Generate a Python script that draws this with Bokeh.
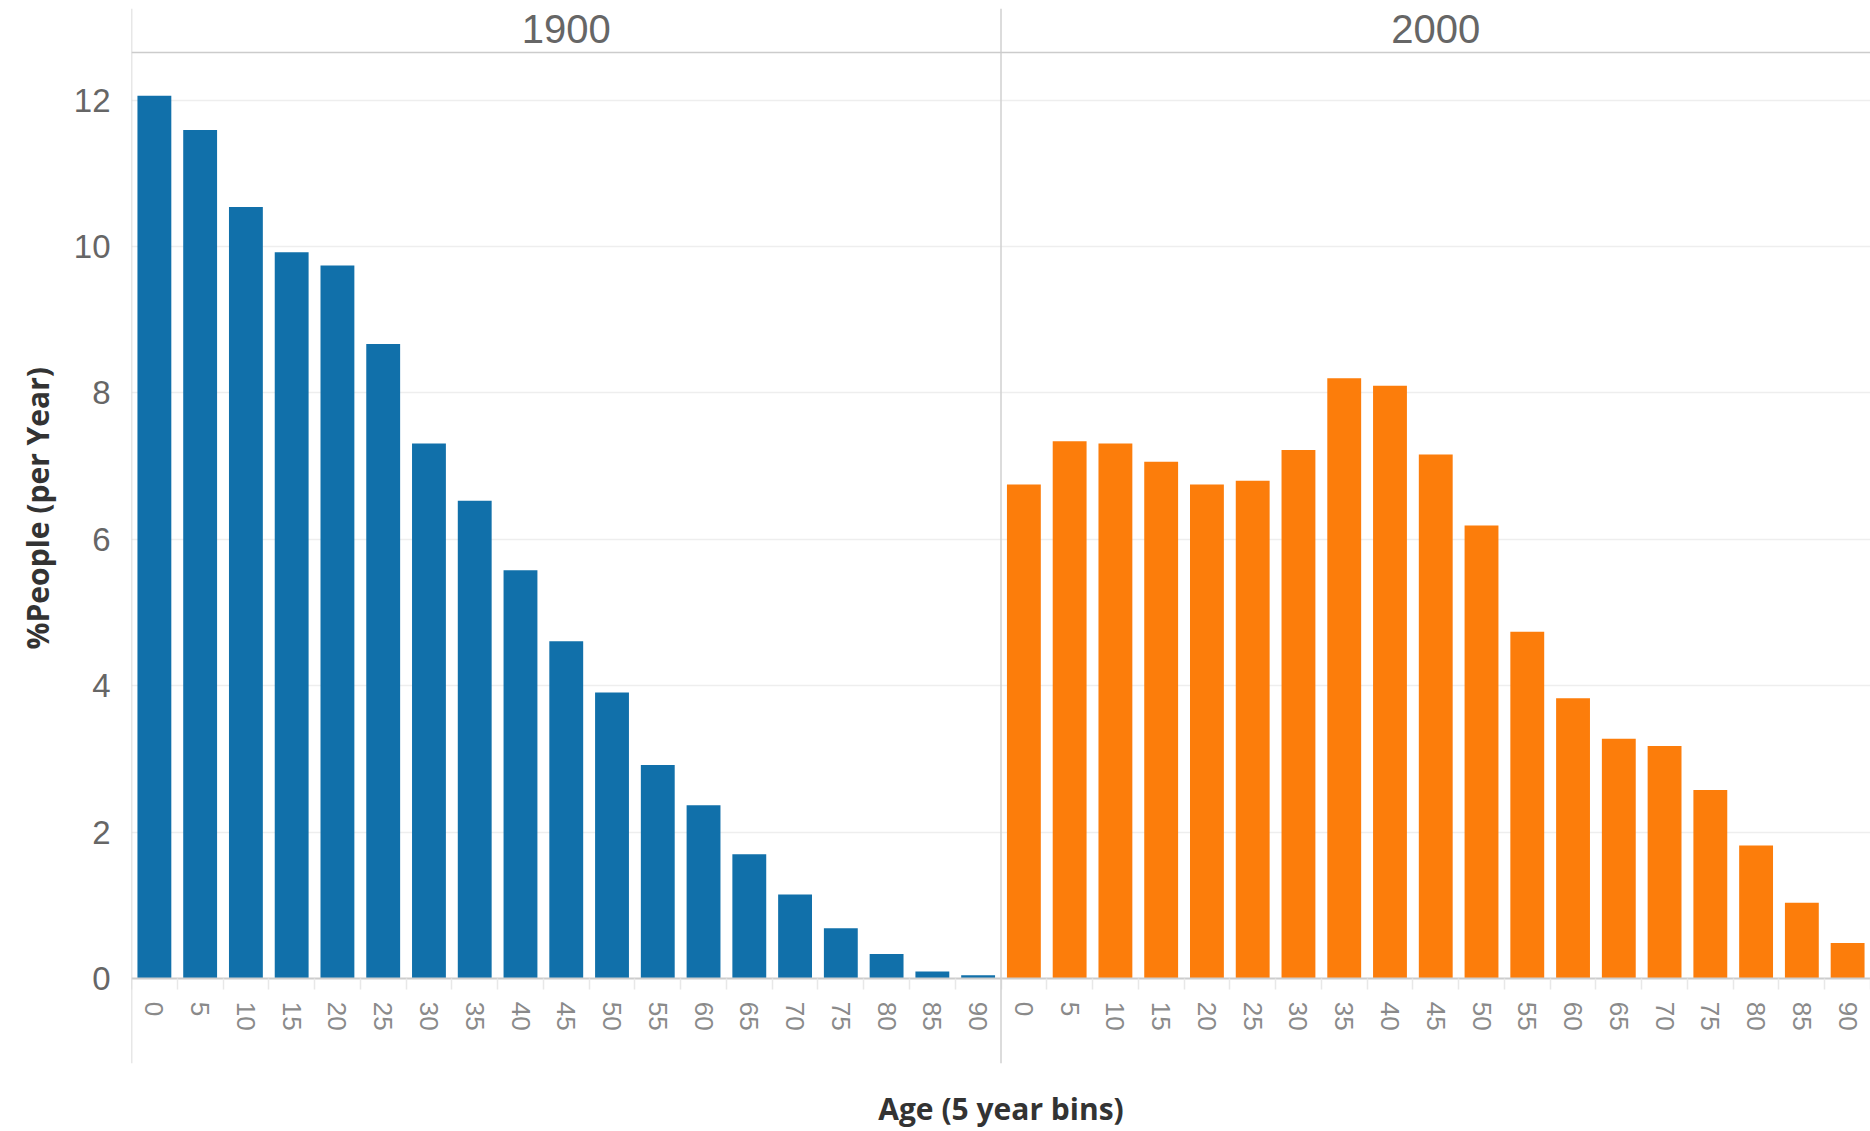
from bokeh.plotting import figure
from bokeh.models import Range1d, FixedTicker, LinearAxis, Span, Label, ColumnDataSource, Title
from bokeh.embed import file_html
from bokeh.resources import INLINE

# ---------------- data ----------------
years = ["1900", "2000"]
ages = [0, 5, 10, 15, 20, 25, 30, 35, 40, 45, 50, 55, 60, 65, 70, 75, 80, 85, 90]
pct_1900 = [12.06, 11.59, 10.54, 9.92, 9.74, 8.67, 7.31, 6.53, 5.58, 4.61,
            3.91, 2.92, 2.37, 1.70, 1.15, 0.69, 0.34, 0.10, 0.05]
pct_2000 = [6.75, 7.34, 7.31, 7.06, 6.75, 6.80, 7.22, 8.20, 8.10, 7.16,
            6.19, 4.74, 3.83, 3.28, 3.18, 2.58, 1.82, 1.04, 0.49]
age_tick_labels = [str(a) for a in ages]
y_ticks = [0, 2, 4, 6, 8, 10, 12]
y_title = "%People (per Year)"
x_title = "Age (5 year bins)"
bar_colors = ["#1170aa", "#fc7d0b"]

# ---------------- layout constants ----------------
n = len(ages)
Y_TOP = 12.65      # top of value axis (header line)
Y_MIN = -1.156     # frame extends below zero for the tick-label band
Y_MAX = 13.25      # frame extends above for the header band
HEADER_Y = 12.97

p = figure(width=1870, height=1131,
           x_range=Range1d(-0.5, 2 * n - 0.5), y_range=Range1d(Y_MIN, Y_MAX),
           output_backend="svg", toolbar_location=None,
           min_border_left=131, min_border_right=0, min_border_top=8, min_border_bottom=64)
p.outline_line_color = None
p.background_fill_color = "white"
p.border_fill_color = "white"

# bars
for k, (vals, col) in enumerate(zip([pct_1900, pct_2000], bar_colors)):
    src = ColumnDataSource(dict(x=[k * n + i for i in range(n)], top=vals))
    p.vbar(x="x", top="top", bottom=0, width=0.74, source=src,
           fill_color=col, line_color=None)

# grid
p.xgrid.visible = False
p.ygrid.ticker = FixedTicker(ticks=y_ticks[1:])
p.ygrid.grid_line_color = "#eeeeee"
p.ygrid.grid_line_width = 1.5

# x axis at value 0
xa = p.xaxis[0]
xa.fixed_location = 0
xa.ticker = FixedTicker(ticks=list(range(2 * n)),
                        minor_ticks=[i + 0.5 for i in range(-1, 2 * n)])
xa.major_label_overrides = {i: age_tick_labels[i % n] for i in range(2 * n)}
xa.major_label_orientation = "vertical"
xa.major_tick_line_color = None
xa.major_tick_out = 0
xa.major_tick_in = 0
xa.minor_tick_out = 11
xa.minor_tick_in = 0
xa.minor_tick_line_color = "#e8e8e8"
xa.minor_tick_line_width = 1.5
xa.axis_line_color = "#cccccc"
xa.axis_line_width = 2
xa.major_label_standoff = 12
xa.major_label_text_font = "Liberation Sans"
xa.major_label_text_font_size = "26px"
xa.major_label_text_color = "#8a8a8a"

# x title axis (invisible, only carries the title)
xt = LinearAxis(ticker=FixedTicker(ticks=[]), axis_label=x_title,
                axis_line_color=None, major_tick_line_color=None,
                minor_tick_line_color=None, major_label_text_font_size="0px",
                axis_label_standoff=24,
                axis_label_text_font="Open Sans", axis_label_text_font_style="bold",
                axis_label_text_font_size="30px", axis_label_text_color="#333333")
p.add_layout(xt, "below")

# y axis
ya = p.yaxis[0]
ya.ticker = FixedTicker(ticks=y_ticks)
ya.axis_line_color = None
ya.major_tick_line_color = None
ya.minor_tick_line_color = None
ya.major_label_standoff = 15
ya.major_label_text_font = "Liberation Sans"
ya.major_label_text_font_size = "33px"
ya.major_label_text_color = "#666666"

# y title as a left-side title, positioned on the value axis
p.add_layout(Title(text=y_title, align="left", offset=414, standoff=25,
                   text_font="Open Sans", text_font_style="bold",
                   text_font_size="30px", text_color="#333333"), "left")

# panel borders and header line
line_col = "#d0d0d0"
for loc in [-0.5, n - 0.5]:
    p.add_layout(Span(location=loc, dimension="height", line_color=line_col, line_width=1.5))
p.add_layout(Span(location=Y_TOP, dimension="width", line_color="#cccccc", line_width=1.5))

# panel headers
for k, yr in enumerate(years):
    p.add_layout(Label(x=k * n + (n - 1) / 2, y=HEADER_Y, text=yr,
                       text_align="center", text_baseline="middle",
                       text_font="Liberation Sans", text_font_size="40px",
                       text_color="#666666"))

open("out.html", "w").write(file_html(p, INLINE))
